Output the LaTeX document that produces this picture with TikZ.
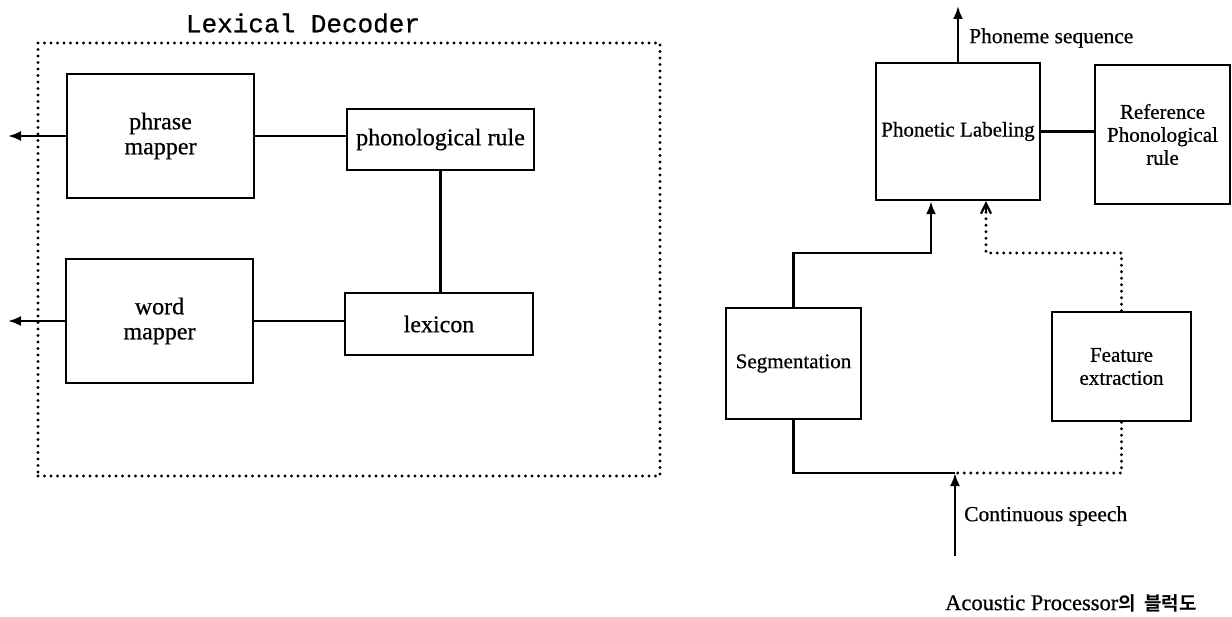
\documentclass[tikz,border=0pt]{standalone}
\usepackage{fontspec}
\setmainfont{Liberation Serif}[FakeBold=0.6]
\newfontfamily\titlefont{Liberation Mono}[FakeBold=0.8]
\newfontfamily\krfont{Noto Sans CJK KR Bold}
\usetikzlibrary{arrows.meta,calc}
\begin{document}
\begin{tikzpicture}[x=1pt,y=-1pt,
  blk/.style={draw,line width=2.4pt,inner sep=0pt,align=center},
  lblk/.style={blk,font=\fontsize{24}{25}\selectfont},
  rblk/.style={blk,font=\fontsize{21}{23}\selectfont},
  conn/.style={line width=2.4pt},
  dotline/.style={line width=3.2pt,line cap=round,dash pattern=on 0pt off 6.5pt},
  arr/.style={conn,-{Latex[length=13pt,width=10pt]}},
  lbl/.style={font=\fontsize{21.5}{23}\selectfont,anchor=west,inner sep=0pt}]
\useasboundingbox (0,0) rectangle (1232,617);
% Lexical decoder
\node[font=\titlefont\fontsize{26}{28}\selectfont,inner sep=0pt] (title) at (303,23) {Lexical Decoder};
\node[dotline,draw,minimum width=622pt,minimum height=433pt,inner sep=0pt] (frame) at (349,259.5) {};
\node[lblk,minimum width=187pt,minimum height=124pt] (phrase) at (160.5,136) {phrase\\mapper};
\node[lblk,minimum width=187pt,minimum height=61pt] (phon) at (440.5,139.5) {phonological rule};
\node[lblk,minimum width=187pt,minimum height=124pt] (word) at (159.5,321) {word\\mapper};
\node[lblk,minimum width=188pt,minimum height=62pt] (lex) at (439,324) {lexicon};
\coordinate (o1) at (8,136);
\coordinate (o2) at (8,321);
\draw[arr] (phrase.west) -- (o1);
\draw[arr] (word.west) -- (o2);
\draw[conn] (phrase.east) -- (phrase.east -| phon.west);
\draw[conn] (phon.south) -- (phon.south |- lex.north);
\draw[conn] (word.east) -- (word.east -| lex.west);
% Acoustic processor
\node[rblk,minimum width=164pt,minimum height=137pt] (pl) at (958,131.5) {Phonetic Labeling};
\node[rblk,minimum width=135pt,minimum height=139pt] (ref) at (1162.5,134.5) {Reference\\Phonological\\rule};
\node[rblk,minimum width=135pt,minimum height=111pt] (seg) at (793.5,363.5) {Segmentation};
\node[rblk,minimum width=139pt,minimum height=109pt] (feat) at (1121.5,366.5) {Feature\\extraction};
\coordinate (ptop) at (958,6);
\draw[arr] (pl.north) -- (ptop);
\node[lbl] (phseq) at (969,38) {Phoneme sequence};
\draw[conn] (pl.east) -- (pl.east -| ref.west);
\coordinate (sa) at (931,253);
\draw[arr] (seg.north) |- (sa) -- (sa |- pl.south);
\coordinate (fa) at (986,253);
\draw[dotline] (feat.north) |- (fa) -- ($(fa |- pl.south)+(0,10)$);
\draw[line width=2.2pt,-{Straight Barb[length=10pt,width=10pt]}] ($(fa |- pl.south)+(0,12)$) -- (fa |- pl.south);
\coordinate (join) at (955,473);
\coordinate (cs) at (955,556);
\draw[conn] (seg.south) |- (join);
\draw[dotline] (feat.south) |- (join);
\draw[arr] (cs) -- (join);
\node[lbl] (cont) at (964,516) {Continuous speech};
\node[lbl,font=\fontsize{22.5}{24}\selectfont] (cap) at (945,603) {Acoustic Processor{\krfont\fontsize{19}{20}\selectfont 의\hspace{4pt} 블럭도}};
\end{tikzpicture}
\end{document}
